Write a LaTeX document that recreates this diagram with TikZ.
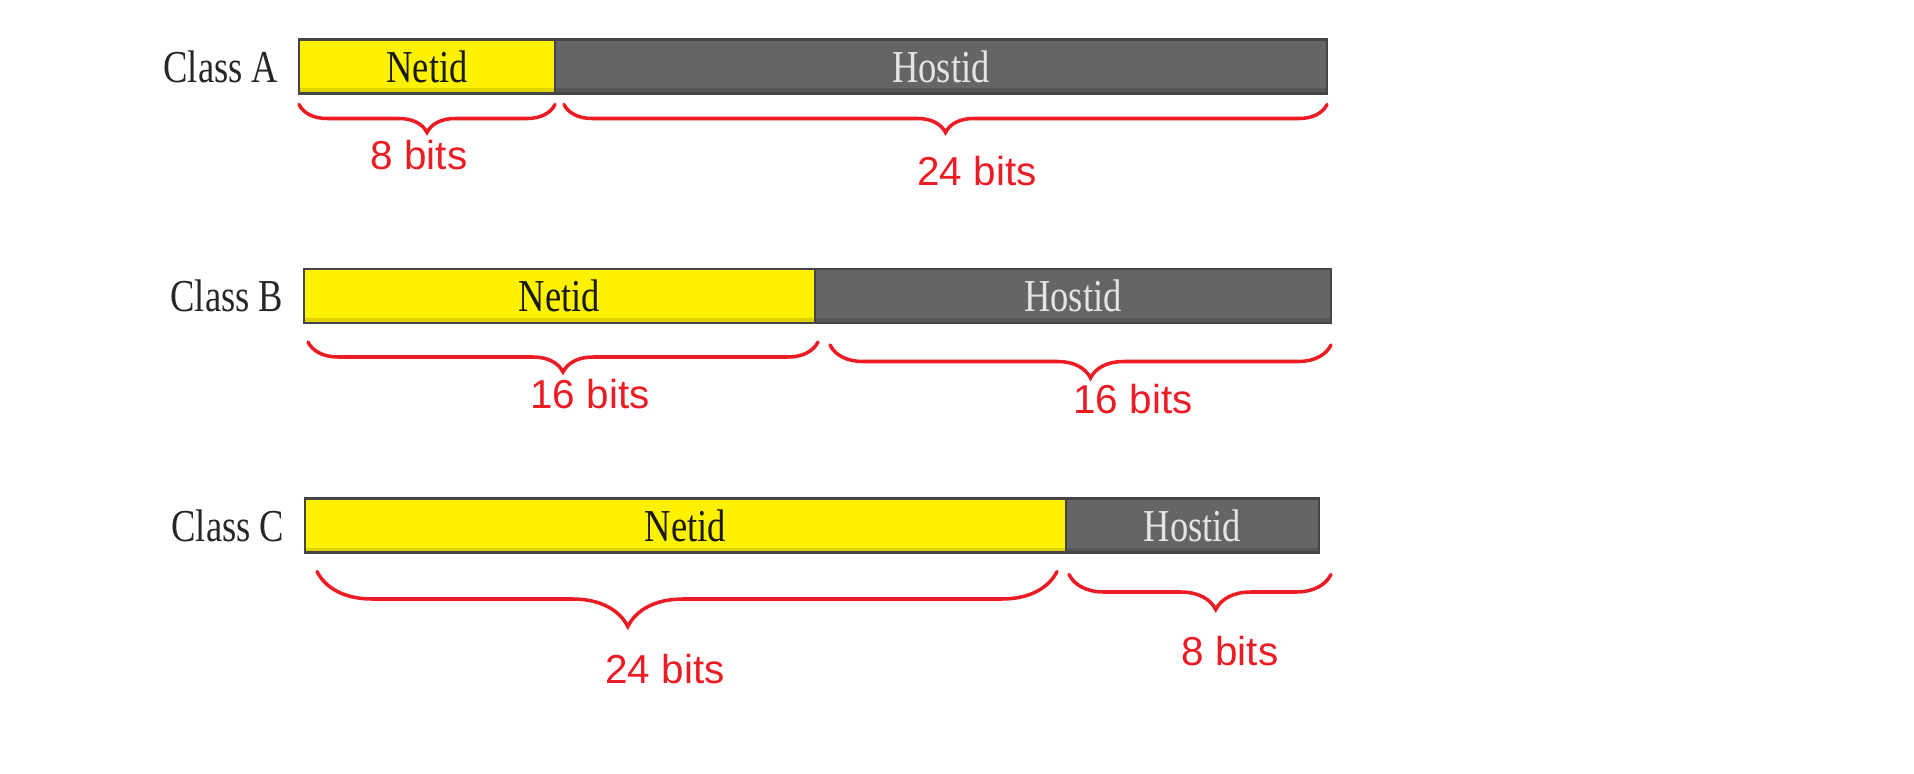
\documentclass[tikz,border=0pt]{standalone}
\usepackage{fontspec}
\setmainfont{Liberation Serif}
\newfontfamily\handfont{Liberation Sans}
\usetikzlibrary{positioning, decorations.pathreplacing}

\definecolor{netyellow}{HTML}{FFF200}
\definecolor{hostgrey}{HTML}{646567}
\definecolor{barline}{HTML}{454545}
\definecolor{penred}{HTML}{ED1C24}

\newcommand{\narrowtext}[1]{\scalebox{0.8}[1]{#1}}

\begin{document}
\begin{tikzpicture}[
      field/.style={draw=barline, line width=0.6pt, minimum height=0.54cm, inner sep=0pt, outer sep=0pt,
        font=\fontsize{13}{15}\selectfont,
        path picture={\fill[black, opacity=0.13] (path picture bounding box.south west) rectangle ([yshift=0.05cm]path picture bounding box.south east);}},
      netid/.style={field, fill=netyellow, text=black!90},
      hostid/.style={field, fill=hostgrey, text=white!90!black},
      classlabel/.style={left=0.2cm of #1, inner sep=0pt, font=\fontsize{13}{15}\selectfont, text=black!85},
      bitbrace/.style={draw=penred, line width=1pt, line cap=round, decorate, decoration={brace, mirror, amplitude=#1}},
      bitlabel/.style={text=penred, font=\handfont\fontsize{11.5}{13}\selectfont}
  ]

  \useasboundingbox (0,0) rectangle (19.14,7.73);

  % class A
  \node [netid, anchor=west, minimum width=2.56cm] (netA) at (2.99,7.065) {\narrowtext{Netid}};
  \node [hostid, right=0pt of netA, minimum width=7.72cm] (hostA) {\narrowtext{Hostid}};
  \node [classlabel=netA] (classA) {\narrowtext{Class A}};

  % class B
  \node [netid, anchor=west, minimum width=5.11cm] (netB) at (3.04,4.77) {\narrowtext{Netid}};
  \node [hostid, right=0pt of netB, minimum width=5.16cm] (hostB) {\narrowtext{Hostid}};
  \node [classlabel=netB] (classB) {\narrowtext{Class B}};

  % class C
  \node [netid, anchor=west, minimum width=7.61cm] (netC) at (3.05,2.475) {\narrowtext{Netid}};
  \node [hostid, right=0pt of netC, minimum width=2.53cm] (hostC) {\narrowtext{Hostid}};
  \node [classlabel=netC] (classC) {\narrowtext{Class C}};

  % braces
  \draw [bitbrace=0.28cm] ([yshift=-0.11cm]netA.south west) -- ([yshift=-0.11cm]netA.south east);
  \draw [bitbrace=0.28cm] ([xshift=0.09cm, yshift=-0.11cm]hostA.south west) -- ([yshift=-0.11cm]hostA.south east);
  \draw [bitbrace=0.30cm] ([xshift=0.04cm, yshift=-0.19cm]netB.south west) -- ([xshift=0.03cm, yshift=-0.19cm]netB.south east);
  \draw [bitbrace=0.33cm, decoration={aspect=0.52}] ([xshift=0.15cm, yshift=-0.22cm]hostB.south west) -- ([yshift=-0.22cm]hostB.south east);
  \draw [bitbrace=0.55cm, decoration={aspect=0.42}] ([xshift=0.12cm, yshift=-0.19cm]netC.south west) -- ([xshift=-0.09cm, yshift=-0.19cm]netC.south east);
  \draw [bitbrace=0.35cm, decoration={aspect=0.56}] ([xshift=0.03cm, yshift=-0.22cm]hostC.south west) -- ([xshift=0.12cm, yshift=-0.22cm]hostC.south east);

  % sizes
  \node [bitlabel] (bitsA1) at (4.19,6.18) {8 bits};
  \node [bitlabel] (bitsA2) at (9.77,6.02) {24 bits};
  \node [bitlabel] (bitsB1) at (5.90,3.79) {16 bits};
  \node [bitlabel] (bitsB2) at (11.33,3.74) {16 bits};
  \node [bitlabel] (bitsC1) at (6.65,1.04) {24 bits};
  \node [bitlabel] (bitsC2) at (12.30,1.22) {8 bits};

\end{tikzpicture}
\end{document}
